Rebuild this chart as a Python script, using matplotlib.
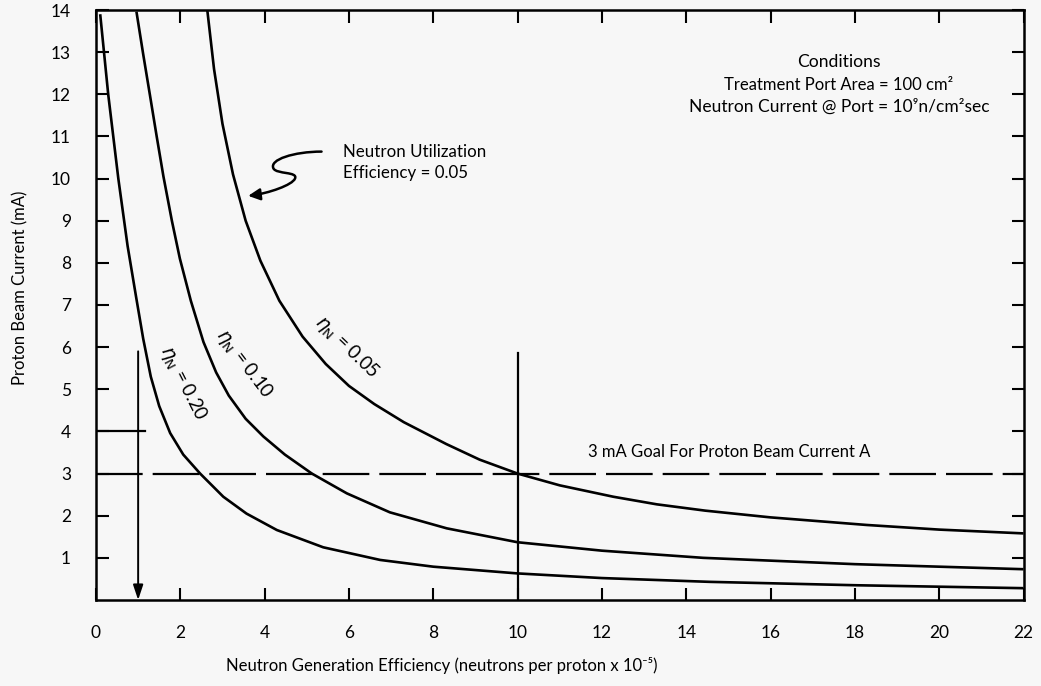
import matplotlib
matplotlib.use("Agg")
import matplotlib.pyplot as plt
from matplotlib.path import Path
from matplotlib.patches import FancyArrowPatch

plt.rcParams['font.family'] = ['Lato', 'DejaVu Sans']
plt.rcParams['mathtext.fontset'] = 'dejavusans'

# ---- data ----
x_ticks = [0, 2, 4, 6, 8, 10, 12, 14, 16, 18, 20, 22]
y_ticks = [1, 2, 3, 4, 5, 6, 7, 8, 9, 10, 11, 12, 13, 14]

eta05_x = [2.64, 2.80, 3.00, 3.25, 3.55, 3.90, 4.35, 4.90, 5.45, 6.00, 6.60, 7.30,
           8.31, 9.10, 10.0, 11.0, 12.27, 13.3, 14.45, 16.0, 18.28, 20.0, 22.0]
eta05_y = [14.0, 12.6, 11.3, 10.1, 9.00, 8.05, 7.10, 6.25, 5.60, 5.08, 4.65, 4.22,
           3.70, 3.33, 3.00, 2.72, 2.45, 2.27, 2.12, 1.96, 1.78, 1.67, 1.58]

eta10_x = [0.96, 1.12, 1.28, 1.44, 1.60, 1.80, 1.99, 2.25, 2.55, 2.85, 3.15, 3.55,
           3.97, 4.48, 5.12, 5.95, 6.97, 8.32, 10.0, 12.0, 14.4, 18.0, 22.0]
eta10_y = [13.96, 12.95, 11.98, 11.0, 10.05, 9.00, 8.10, 7.10, 6.12, 5.40, 4.85, 4.30,
           3.88, 3.45, 3.00, 2.53, 2.08, 1.70, 1.37, 1.17, 1.00, 0.85, 0.73]

eta20_x = [0.10, 0.29, 0.53, 0.75, 0.95, 1.12, 1.30, 1.50, 1.76, 2.07, 2.47, 3.02,
           3.57, 4.29, 5.39, 6.74, 8.0, 10.0, 12.0, 14.56, 18.0, 22.0]
eta20_y = [13.90, 12.00, 10.0, 8.40, 7.20, 6.20, 5.30, 4.60, 3.96, 3.45, 3.00, 2.45,
           2.05, 1.66, 1.25, 0.95, 0.79, 0.63, 0.52, 0.43, 0.35, 0.28]

goal_current = 3.0
goal_efficiency = 10.0
goal_top = 5.86
arrow_x = 1.0
arrow_top = 5.9
short_line_y = 4.0
short_line_x = 1.16

BG = '#f7f7f7'
fig = plt.figure(figsize=(10.41, 6.86), dpi=100, facecolor=BG)
ax = fig.add_axes([0.0922, 0.1254, 0.8910, 0.8600], facecolor=BG)

lw_curve = 1.9
for xs, ys in [(eta05_x, eta05_y), (eta10_x, eta10_y), (eta20_x, eta20_y)]:
    ax.plot(xs, ys, color='black', lw=lw_curve, solid_capstyle='butt',
            solid_joinstyle='round')

# dashed goal line
ax.plot([0, 22], [goal_current, goal_current], color='black', lw=1.6,
        dashes=(21, 4.5), dash_capstyle='butt')
# vertical line at efficiency 10
ax.plot([goal_efficiency, goal_efficiency], [0, goal_top], color='black', lw=1.6)
# short horizontal line at 4 mA
ax.plot([0, short_line_x], [short_line_y, short_line_y], color='black', lw=1.6)
# vertical arrow at x=1
ax.annotate('', xy=(arrow_x, 0.0), xytext=(arrow_x, arrow_top),
            arrowprops=dict(arrowstyle='-|>,head_length=0.9,head_width=0.3',
                            color='black', lw=1.4, shrinkA=0, shrinkB=0))

# squiggly arrow
verts = [(5.35, 10.64), (4.70, 10.64), (4.10, 10.45), (4.21, 10.24),
         (4.28, 10.10), (4.80, 10.17), (4.72, 10.00),
         (4.66, 9.85), (4.10, 9.65), (3.61, 9.59)]
codes = [Path.MOVETO] + [Path.CURVE4] * 9
sq = FancyArrowPatch(path=Path(verts, codes),
                     arrowstyle='-|>,head_length=7,head_width=3.5',
                     color='black', lw=1.8, mutation_scale=1)
ax.add_patch(sq)

ax.set_xlim(0, 22)
ax.set_ylim(0, 14)
ax.set_xticks(x_ticks)
ax.set_yticks(y_ticks)
ax.set_xticklabels([str(v) for v in x_ticks])
ax.set_yticklabels([str(v) for v in y_ticks])
ax.tick_params(axis='both', direction='in', length=9, width=1.5,
               labelsize=12.5, top=True, right=True, pad=18)
for s in ax.spines.values():
    s.set_linewidth(1.8)

tfs = 12.2
ax.text(17.62, 12.77, 'Conditions', ha='center', va='center', fontsize=12.6)
ax.text(17.62, 12.22, 'Treatment Port Area = 100 cm²', ha='center', va='center', fontsize=12)
ax.text(17.62, 11.70, 'Neutron Current @ Port = 10⁹n/cm²sec', ha='center', va='center', fontsize=12.5)
ax.text(11.67, 3.51, '3 mA Goal For Proton Beam Current A', ha='left', va='center', fontsize=12)
ax.text(5.86, 10.63, 'Neutron Utilization', ha='left', va='center', fontsize=tfs)
ax.text(5.86, 10.13, 'Efficiency = 0.05', ha='left', va='center', fontsize=tfs)

ax.text(5.95, 6.00, r'$\eta_\mathrm{N}$ = 0.05', rotation=-44, ha='center', va='center',
        fontsize=13.5, rotation_mode='anchor')
ax.text(3.51, 5.60, r'$\eta_\mathrm{N}$ = 0.10', rotation=-53, ha='center', va='center',
        fontsize=13.5, rotation_mode='anchor')
ax.text(2.07, 5.14, r'$\eta_\mathrm{N}$ = 0.20', rotation=-63, ha='center', va='center',
        fontsize=13.5, rotation_mode='anchor')

fig.text(0.4246, 0.0306, 'Neutron Generation Efficiency (neutrons per proton x 10⁻⁵)',
         ha='center', va='center', fontsize=12)
fig.text(0.0192, 0.58, 'Proton Beam Current (mA)', rotation=90,
         ha='center', va='center', fontsize=12)

fig.savefig('out.png', dpi=100, facecolor=BG)
